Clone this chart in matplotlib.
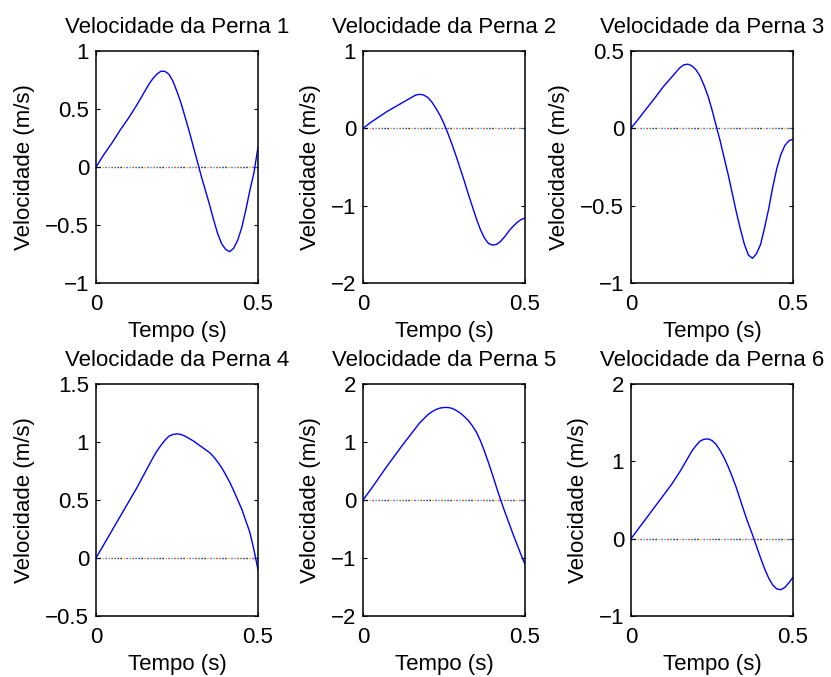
import matplotlib
matplotlib.use("Agg")
from matplotlib import pyplot as plt
from matplotlib.ticker import FuncFormatter

plt.rcParams['font.family'] = ['Liberation Sans', 'DejaVu Sans']
plt.rcParams['font.size'] = 16

# tempo (s), passo de 0.0125
tempo = [0, 0.0125, 0.025, 0.0375, 0.05, 0.0625, 0.075, 0.0875, 0.1, 0.1125,
         0.125, 0.1375, 0.15, 0.1625, 0.175, 0.1875, 0.2, 0.2125, 0.225, 0.2375,
         0.25, 0.2625, 0.275, 0.2875, 0.3, 0.3125, 0.325, 0.3375, 0.35, 0.3625,
         0.375, 0.3875, 0.4, 0.4125, 0.425, 0.4375, 0.45, 0.4625, 0.475, 0.4875,
         0.5]

perna1 = [0, 0.055, 0.11, 0.16, 0.21, 0.265, 0.32, 0.37, 0.42, 0.475,
          0.53, 0.59, 0.65, 0.71, 0.76, 0.80, 0.825, 0.825, 0.80, 0.74,
          0.65, 0.55, 0.43, 0.31, 0.18, 0.05, -0.08, -0.20, -0.32, -0.45,
          -0.57, -0.66, -0.71, -0.73, -0.70, -0.63, -0.52, -0.37, -0.20, -0.05,
          0.17]
perna2 = [0, 0.04, 0.08, 0.115, 0.15, 0.185, 0.22, 0.25, 0.28, 0.31,
          0.34, 0.37, 0.40, 0.43, 0.44, 0.43, 0.40, 0.34, 0.26, 0.17,
          0.06, -0.07, -0.21, -0.36, -0.52, -0.68, -0.85, -1.01, -1.17, -1.31,
          -1.42, -1.49, -1.51, -1.50, -1.46, -1.40, -1.33, -1.27, -1.22, -1.18,
          -1.16]
perna3 = [0, 0.033, 0.066, 0.10, 0.133, 0.167, 0.20, 0.235, 0.27, 0.30,
          0.33, 0.36, 0.39, 0.41, 0.415, 0.405, 0.38, 0.34, 0.28, 0.21,
          0.12, 0.02, -0.08, -0.19, -0.30, -0.42, -0.54, -0.65, -0.75, -0.82,
          -0.84, -0.81, -0.75, -0.64, -0.52, -0.38, -0.26, -0.17, -0.11, -0.08,
          -0.07]
perna4 = [0, 0.06, 0.12, 0.18, 0.24, 0.30, 0.36, 0.42, 0.48, 0.54,
          0.60, 0.665, 0.73, 0.795, 0.86, 0.92, 0.97, 1.015, 1.05, 1.065,
          1.07, 1.065, 1.05, 1.03, 1.01, 0.985, 0.96, 0.935, 0.91, 0.875,
          0.83, 0.78, 0.72, 0.655, 0.58, 0.50, 0.42, 0.32, 0.22, 0.07,
          -0.10]
perna5 = [0, 0.095, 0.19, 0.29, 0.39, 0.49, 0.59, 0.685, 0.78, 0.875,
          0.97, 1.06, 1.15, 1.24, 1.33, 1.40, 1.47, 1.52, 1.56, 1.585,
          1.595, 1.595, 1.58, 1.545, 1.50, 1.44, 1.37, 1.28, 1.17, 1.02,
          0.84, 0.64, 0.43, 0.21, 0.0, -0.20, -0.39, -0.58, -0.76, -0.94,
          -1.11]
perna6 = [0, 0.07, 0.14, 0.21, 0.28, 0.35, 0.42, 0.49, 0.56, 0.63,
          0.70, 0.78, 0.86, 0.95, 1.04, 1.13, 1.20, 1.26, 1.285, 1.29,
          1.27, 1.22, 1.14, 1.045, 0.93, 0.80, 0.66, 0.50, 0.34, 0.19,
          0.05, -0.10, -0.25, -0.39, -0.51, -0.60, -0.65, -0.66, -0.63, -0.57,
          -0.50]

zeros = [0] * len(tempo)

pernas = [perna1, perna2, perna3, perna4, perna5, perna6]
limites = [(-1, 1), (-2, 1), (-1, 0.5), (-0.5, 1.5), (-2, 2), (-1, 2)]
ticks_y = [[-1, -0.5, 0, 0.5, 1], [-2, -1, 0, 1], [-1, -0.5, 0, 0.5],
           [-0.5, 0, 0.5, 1, 1.5], [-2, -1, 0, 1, 2], [-1, 0, 1, 2]]

# cores do traco pontilhado do zero (ordem antiga do matlab)
cores_zero = ['b', 'g', 'r', 'c', 'm', 'y', 'k']

fig = plt.figure(figsize=(8.31, 6.77), dpi=100)

esquerdas = [96, 363, 631]
largura = 162 / 831
altura = 232 / 677
baixos = [677 - 283, 677 - 616]


def fmt(v, pos):
    return ('%g' % v).replace('-', '\u2212')


for i in range(6):
    lin, col = divmod(i, 3)
    ax = fig.add_axes([esquerdas[col] / 831, baixos[lin] / 677, largura, altura])

    # linha do zero pontilhada multicolorida
    for k, c in enumerate(cores_zero):
        ax.plot(tempo, zeros, color=c, lw=1.0, ls=(k * 2.16, (1, 14.1)))
    ax.plot(tempo, pernas[i], color='#0000ff', lw=1.0)

    ax.set_xlim(0, 0.5)
    ax.set_ylim(*limites[i])
    ax.set_xticks([0, 0.5])
    ax.set_yticks(ticks_y[i])
    ax.xaxis.set_major_formatter(FuncFormatter(fmt))
    ax.yaxis.set_major_formatter(FuncFormatter(fmt))
    ax.tick_params(direction='in', length=3, width=0.8, top=True, right=True,
                   labelsize=16)
    ax.tick_params(axis='x', pad=8)
    ax.tick_params(axis='y', pad=5)
    for s in ax.spines.values():
        s.set_linewidth(1.1)

    ax.set_title('Velocidade da Perna %d' % (i + 1), fontsize=16, pad=13)
    ax.set_xlabel('Tempo (s)', fontsize=16, labelpad=4)
    ax.set_ylabel('Velocidade (m/s)', fontsize=16, labelpad=7)

fig.savefig('out.png', dpi=100)
